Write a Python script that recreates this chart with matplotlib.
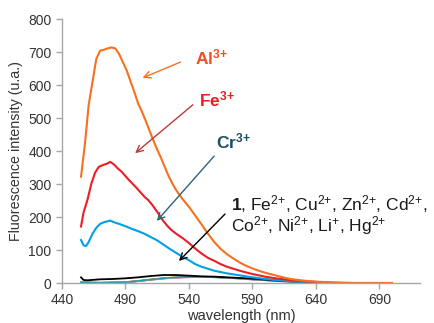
import matplotlib
matplotlib.use("Agg")
import matplotlib.pyplot as plt

plt.rcParams['font.family'] = ['Liberation Sans', 'DejaVu Sans']
plt.rcParams['mathtext.fontset'] = 'custom'
plt.rcParams['mathtext.rm'] = 'Liberation Sans'
plt.rcParams['mathtext.bf'] = 'Liberation Sans:bold'
plt.rcParams['mathtext.it'] = 'Liberation Sans:italic'

# ---- data ----
al_wl = [455, 458, 461, 464, 467, 470, 473, 476, 479, 482, 485, 488, 491, 494, 497, 500,
         503, 506, 509, 512, 515, 518, 521, 524, 527, 530, 535, 540, 545, 550, 555, 560,
         565, 570, 575, 580, 585, 590, 595, 600, 605, 610, 615, 620, 630, 640, 650, 660,
         670, 680, 690, 700]
al_val = [323, 420, 540, 610, 680, 705, 708, 712, 715, 712, 695, 670, 645, 612, 580, 545,
          520, 492, 462, 433, 405, 380, 352, 325, 302, 282, 255, 232, 205, 178, 150, 125,
          104, 88, 75, 63, 53, 45, 38, 32, 27, 22, 17, 13, 8, 5, 3, 2,
          1, 1, 1, 1]

fe_wl = [455, 457, 460, 463, 466, 469, 472, 475, 478, 481, 484, 487, 490, 493, 496, 499,
         502, 505, 508, 511, 514, 517, 520, 523, 526, 530, 535, 540, 545, 550, 555, 560,
         565, 570, 575, 580, 590, 600, 610, 620, 630, 640, 650, 660]
fe_val = [172, 215, 252, 300, 335, 353, 358, 362, 368, 360, 348, 338, 325, 312, 300, 288,
          275, 262, 252, 238, 222, 205, 188, 174, 162, 150, 137, 122, 105, 90, 77, 68,
          58, 50, 44, 38, 28, 20, 14, 10, 6, 4, 2, 1]

cr_wl = [455, 457, 459, 461, 464, 467, 470, 473, 476, 478, 481, 485, 490, 495, 500, 505,
         510, 515, 520, 525, 530, 535, 540, 545, 550, 555, 560, 565, 570, 575, 580, 590,
         600, 610, 620, 630, 640, 650, 660]
cr_val = [131, 115, 113, 125, 150, 168, 180, 185, 188, 190, 185, 180, 173, 165, 158, 150,
          140, 130, 117, 104, 92, 80, 70, 58, 50, 44, 38, 34, 30, 27, 24, 18,
          13, 9, 6, 4, 2, 1, 0]

l1_wl = [455, 457, 460, 470, 480, 490, 500, 510, 520, 530, 540, 550, 560, 570, 580, 590,
         600, 610, 620, 630, 640, 650]
l1_val = [18, 10, 9, 12, 13, 15, 18, 22, 25, 25, 23, 21, 20, 18, 16, 14,
          11, 8, 6, 4, 2, 1]

oth_wl = [455, 470, 490, 500, 510, 520, 530, 540, 550, 560, 570, 580, 590, 600, 610, 620,
          630, 640, 650]
fe2_val = [3, 2, 4, 7, 12, 16, 18, 20, 20, 19, 17, 15, 12, 10, 7, 5, 3, 2, 1]
cu2_val = [2, 1, 3, 6, 11, 15, 17, 19, 20, 19, 17, 14, 12, 9, 7, 5, 3, 2, 1]
zn2_val = [4, 2, 4, 8, 12, 15, 18, 19, 19, 18, 16, 14, 11, 9, 6, 4, 3, 1, 0]
cd2_val = [3, 1, 2, 6, 10, 14, 17, 19, 19, 18, 17, 15, 12, 10, 7, 5, 3, 2, 1]
co2_val = [2, 2, 3, 7, 11, 15, 17, 18, 19, 18, 16, 14, 11, 9, 7, 5, 3, 2, 1]
ni2_val = [3, 2, 4, 7, 12, 16, 19, 20, 20, 19, 17, 15, 12, 10, 7, 5, 3, 1, 0]
li_val = [1, 1, 3, 6, 10, 14, 16, 18, 19, 18, 16, 14, 11, 9, 6, 4, 2, 1, 0]
hg2_val = [2, 1, 3, 7, 11, 15, 18, 19, 20, 19, 17, 15, 12, 10, 7, 5, 3, 2, 1]

others = [fe2_val, cu2_val, zn2_val, cd2_val, co2_val, ni2_val, li_val, hg2_val]
other_colors = ['#E8C000', '#E040A0', '#70B040', '#8060A0', '#00B0C0', '#A0A040',
                '#F080C0', '#20A0A0']

xticks = [440, 490, 540, 590, 640, 690]
yticks = [0, 100, 200, 300, 400, 500, 600, 700, 800]

# ---- figure ----
fig = plt.figure(figsize=(4.35, 3.23), dpi=100)
ax = fig.add_axes([0.1425, 0.123, 0.823, 0.817])

for vals, c in zip(others, other_colors):
    ax.plot(oth_wl, vals, color=c, lw=1.0)
ax.plot(l1_wl, l1_val, color='black', lw=1.3)
ax.plot(cr_wl, cr_val, color='#00A0E6', lw=1.5)
ax.plot(fe_wl, fe_val, color='#EE1C25', lw=1.5)
ax.plot(al_wl, al_val, color='#F7701E', lw=1.5)

ax.set_xlim(440, 722)
ax.set_ylim(0, 800)
ax.set_xticks(xticks)
ax.set_yticks(yticks)
for s in ['top', 'right']:
    ax.spines[s].set_visible(False)
for s in ['left', 'bottom']:
    ax.spines[s].set_color('#A6A6A6')
    ax.spines[s].set_linewidth(1.0)
ax.tick_params(axis='both', colors='#A6A6A6', labelcolor='#333333', labelsize=10,
               length=4, width=1.0, direction='out')
ax.tick_params(axis='x', pad=3)
ax.set_xlabel('wavelength (nm)', fontsize=10.5, color='#333333')
ax.xaxis.set_label_coords(0.5, -0.098)
ax.set_ylabel('Fluorescence intensity (u.a.)', fontsize=10.3, color='#333333', labelpad=4)

# ---- annotations ----
def lab(txt, xy_px, color, size):
    fig.text(xy_px[0] / 435, 1 - xy_px[1] / 323, txt, color=color, fontsize=size,
             ha='left', va='center')

def arrow(tail_px, head_px, color):
    ax.annotate('', xy=(head_px[0] / 435, 1 - head_px[1] / 323), xycoords='figure fraction',
                xytext=(tail_px[0] / 435, 1 - tail_px[1] / 323), textcoords='figure fraction',
                arrowprops=dict(arrowstyle='->', color=color, lw=1.0, mutation_scale=12))

lab(r'$\mathbf{Al^{3{+}}}$', (195, 57), '#F04E23', 12.5)
lab(r'$\mathbf{Fe^{3{+}}}$', (199, 99), '#E8202A', 12.5)
lab(r'$\mathbf{Cr^{3{+}}}$', (216, 141), '#1F4E5F', 12.5)
lab(r'$\mathbf{1}$, Fe$^{2{+}}$, Cu$^{2{+}}$, Zn$^{2{+}}$, Cd$^{2{+}}$,', (231, 204), '#1A1A1A', 12.5)
lab(r'Co$^{2{+}}$, Ni$^{2{+}}$, Li$^{{+}}$, Hg$^{2{+}}$', (231, 226), '#1A1A1A', 12.5)

arrow((183, 61), (140, 79), '#F7701E')
arrow((195, 103), (133, 155), '#C0393B')
arrow((216, 154), (155, 223), '#2E6478')
arrow((227, 212), (177, 263), 'black')

fig.savefig('out.png', dpi=100)
